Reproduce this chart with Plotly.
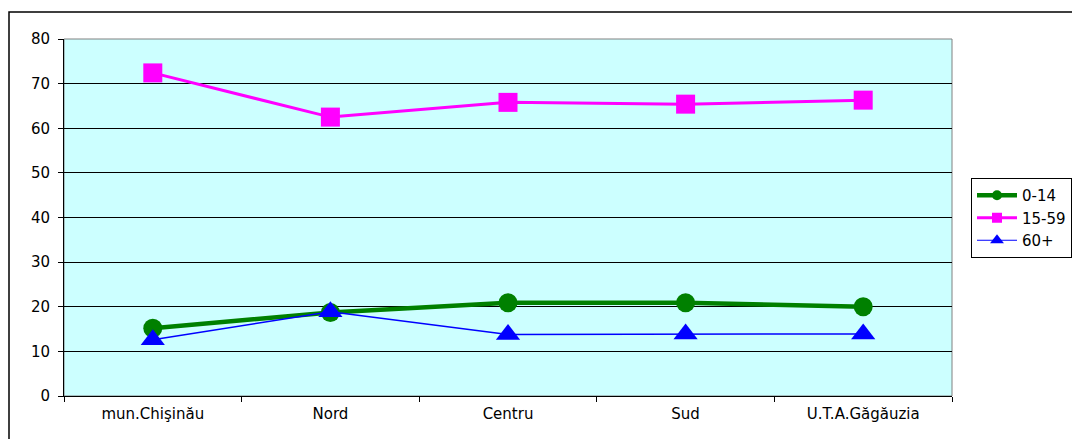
import plotly.graph_objects as go

categories = ["mun.Chişinău", "Nord", "Centru", "Sud", "U.T.A.Găgăuzia"]
series_names = ["0-14", "15-59", "60+"]
s_0_14 = [15.2, 18.7, 20.9, 20.9, 20.0]
s_15_59 = [72.4, 62.5, 65.8, 65.4, 66.3]
s_60 = [12.6, 18.9, 13.8, 13.9, 13.9]

W, H = 1080, 439
OFF = 8  # page body margin
L, R, T, B = 64 - OFF, 952 - OFF, 39 - OFF, 396 - OFF
pw, ph = R - L, B - T

styles = [
    dict(color="#008000", width=4.5, symbol="circle", size=19, lsize=10),
    dict(color="#FF00FF", width=3, symbol="square", size=19, lsize=10),
    dict(color="#0000FF", width=1.5, symbol="triangle-up", size=21, lsize=12),
]

fig = go.Figure()
for name, vals, st in zip(series_names, [s_0_14, s_15_59, s_60], styles):
    fig.add_trace(go.Scatter(x=categories, y=vals, name=name, mode="lines+markers",
                             line=dict(color=st["color"], width=st["width"]),
                             marker=dict(symbol=st["symbol"], size=st["size"], color=st["color"]),
                             showlegend=False, legendgroup=name))
# legend entries with small markers like the original
for name, st in zip(series_names, styles):
    fig.add_trace(go.Scatter(x=[None], y=[None], name=name, mode="lines+markers",
                             line=dict(color=st["color"], width=st["width"] if st["width"] > 2 else 1),
                             marker=dict(symbol=st["symbol"], size=st["lsize"], color=st["color"]),
                             showlegend=True, legendgroup=name))

fig.update_layout(
    width=W, height=H,
    margin=dict(l=L, r=W - R, t=T, b=H - B, pad=0),
    paper_bgcolor="white",
    plot_bgcolor="#CCFFFF",
    font=dict(family="DejaVu Sans, Arial, sans-serif", size=15, color="black"),
    xaxis=dict(type="category", range=[-0.5, 4.5], tickson="boundaries",
               ticks="outside", ticklen=5, tickcolor="black",
               showline=True, linecolor="black", linewidth=1,
               showgrid=False, zeroline=False, ticklabelstandoff=4),
    yaxis=dict(range=[0, 80], dtick=10, ticks="outside", ticklen=5, tickcolor="black",
               showline=True, linecolor="black", linewidth=1,
               showgrid=True, gridcolor="black", gridwidth=1, zeroline=False,
               ticklabelstandoff=5),
    legend=dict(x=(971 - 64) / pw, y=(396 - 178) / ph, xanchor="left", yanchor="top",
                bgcolor="white", bordercolor="black", borderwidth=1,
                font=dict(size=15), itemwidth=40, tracegroupgap=0),
    showlegend=True,
)

# plot-area border (gray)
fig.add_shape(type="rect", xref="paper", yref="paper", x0=0, y0=0, x1=1, y1=1,
              line=dict(color="#808080", width=1), layer="below")
# outer chart border
fig.add_shape(type="rect", xref="paper", yref="paper",
              x0=(9 - 64) / pw, y0=(396 - 460) / ph, x1=(1100 - 64) / pw, y1=(396 - 12) / ph,
              line=dict(color="black", width=1.5), fillcolor="rgba(0,0,0,0)")

fig.write_html("out.html")
